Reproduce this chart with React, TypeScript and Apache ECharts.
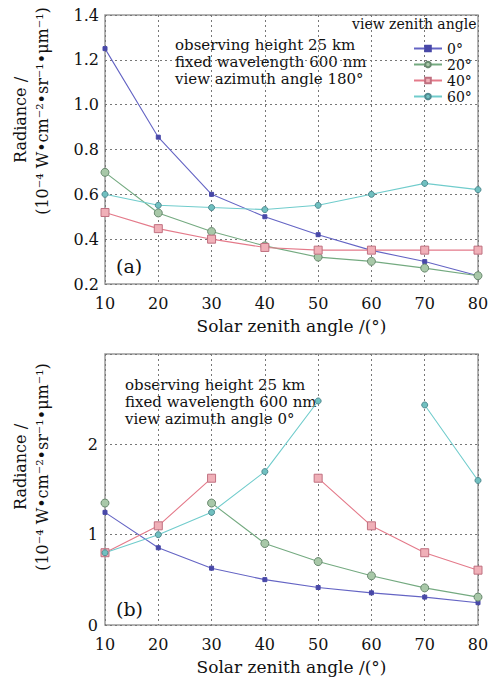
import React, { useEffect, useRef } from "react";
import * as echarts from "echarts";

const solarAngles = [10, 20, 30, 40, 50, 60, 70, 80];
const seriesNames = ["0°", "20°", "40°", "60°"];

// Panel (a): view azimuth angle 180°
const a0 = [1.25, 0.855, 0.6, 0.5, 0.42, 0.35, 0.3, 0.237];
const a20 = [0.698, 0.517, 0.434, 0.37, 0.32, 0.301, 0.271, 0.237];
const a40 = [0.519, 0.447, 0.4, 0.363, 0.351, 0.351, 0.351, 0.351];
const a60 = [0.6, 0.551, 0.541, 0.532, 0.551, 0.6, 0.649, 0.621];

// Panel (b): view azimuth angle 0° (null = gap)
const b0 = [1.247, 0.855, 0.629, 0.502, 0.415, 0.356, 0.309, 0.247];
const b20 = [1.35, null, 1.35, 0.902, 0.702, 0.545, 0.411, 0.309];
const b40 = [0.8, 1.098, 1.625, null, 1.625, 1.098, 0.8, 0.607];
const b60 = [0.8, 1.0, 1.247, 1.698, 2.48, null, 2.436, 1.6];

const yTicksA = { min: 0.2, max: 1.4, interval: 0.2 };
const yTicksB = { min: 0, max: 3, interval: 1 };

const FONT = "DejaVu Serif";

const styles = [
  { color: "#6464c4", symbol: "rect", size: 4, fill: "#4848a8", border: "#4848a8" },
  { color: "#74aa80", symbol: "circle", size: 8, fill: "#a8c8a8", border: "#6a8a70" },
  { color: "#e47a8a", symbol: "rect", size: 8, fill: "#f0b0b8", border: "#c07080" },
  { color: "#70cccc", symbol: "circle", size: 6, fill: "#70c0c0", border: "#508a90" },
];

function mk(name: string, vals: (number | null)[], i: number, axisIdx: number) {
  const s = styles[i];
  return {
    name,
    type: "line",
    xAxisIndex: axisIdx,
    yAxisIndex: axisIdx,
    data: solarAngles.map((x, k) => [x, vals[k]]),
    connectNulls: false,
    symbol: s.symbol,
    symbolSize: s.size,
    showAllSymbol: true,
    lineStyle: { color: s.color, width: 1.1 },
    itemStyle: { color: s.fill, borderColor: s.border, borderWidth: 1 },
    emphasis: { disabled: true },
    z: 3,
  };
}

export default function App() {
  const ref = useRef<HTMLDivElement>(null);
  useEffect(() => {
    document.body.style.margin = "0";
    const chart = echarts.init(ref.current!, null, { renderer: "svg" });
    const xAxisBase = {
      type: "value",
      min: 10,
      max: 80,
      interval: 10,
      axisLine: { show: false },
      axisTick: { show: false },
      axisLabel: { color: "#111", fontFamily: FONT, fontSize: 16, margin: 11 },
      splitLine: { show: true, lineStyle: { color: "#777", type: [2, 3], width: 1 } },
      name: "Solar zenith angle /(°)",
      nameLocation: "middle",
      nameGap: 33,
      nameTextStyle: { color: "#111", fontFamily: FONT, fontSize: 17 },
    };
    const yAxisBase = {
      type: "value",
      axisLine: { show: false },
      axisTick: { show: false },
      splitLine: { show: true, lineStyle: { color: "#777", type: [2, 3], width: 1 } },
    };
    const gridBase = {
      left: 105,
      right: 22,
      show: true,
      borderColor: "#9a9a9a",
      borderWidth: 1.5,
      backgroundColor: "transparent",
    };
    const annStyle = { fill: "#111", fontFamily: FONT, fontSize: 15, lineHeight: 17 };
    const yNameStyle = { fill: "#111", fontFamily: FONT, fontSize: 16, align: "center", verticalAlign: "middle" };
    chart.setOption({
      animation: false,
      backgroundColor: "#ffffff",
      grid: [
        { ...gridBase, top: 15, height: 269 },
        { ...gridBase, top: 354, height: 271 },
      ],
      xAxis: [
        { ...xAxisBase, gridIndex: 0 },
        { ...xAxisBase, gridIndex: 1 },
      ],
      yAxis: [
        {
          ...yAxisBase,
          gridIndex: 0,
          ...yTicksA,
          axisLabel: {
            color: "#111",
            fontFamily: FONT,
            fontSize: 16,
            margin: 6,
            formatter: (v: number) => v.toFixed(1),
          },
        },
        {
          ...yAxisBase,
          gridIndex: 1,
          ...yTicksB,
          axisLabel: {
            color: "#111",
            fontFamily: FONT,
            fontSize: 16,
            margin: 7,
            showMaxLabel: false,
          },
        },
      ],
      legend: {
        data: seriesNames,
        orient: "vertical",
        left: 408,
        top: 36,
        itemWidth: 28,
        itemHeight: 7,
        itemGap: 1,
        textStyle: { color: "#111", fontFamily: FONT, fontSize: 14, lineHeight: 15 },
        selectedMode: false,
      },
      graphic: [
        { type: "text", left: 352, top: 17, style: { text: "view zenith angle", fill: "#111", fontFamily: FONT, fontSize: 14 } },
        {
          type: "text",
          x: 175,
          y: 36,
          style: { ...annStyle, text: "observing height 25 km\nfixed wavelength 600 nm\nview azimuth angle 180°" },
        },
        {
          type: "text",
          x: 125,
          y: 376,
          style: { ...annStyle, text: "observing height 25 km\nfixed wavelength 600 nm\nview azimuth angle 0°" },
        },
        { type: "text", x: 116, y: 256, style: { text: "(a)", fill: "#111", fontFamily: FONT, fontSize: 19 } },
        { type: "text", x: 116, y: 599, style: { text: "(b)", fill: "#111", fontFamily: FONT, fontSize: 19 } },
        { type: "text", x: 20, y: 120, rotation: Math.PI / 2, style: { ...yNameStyle, text: "Radiance /" } },
        {
          type: "text",
          x: 42,
          y: 111,
          rotation: Math.PI / 2,
          style: { ...yNameStyle, text: "(10⁻⁴ W•cm⁻²•sr⁻¹•μm⁻¹)" },
        },
        { type: "text", x: 20, y: 467, rotation: Math.PI / 2, style: { ...yNameStyle, text: "Radiance /" } },
        {
          type: "text",
          x: 42,
          y: 467,
          rotation: Math.PI / 2,
          style: { ...yNameStyle, text: "(10⁻⁴ W•cm⁻²•sr⁻¹•μm⁻¹)" },
        },
      ],
      series: [
        mk(seriesNames[0], a0, 0, 0),
        mk(seriesNames[1], a20, 1, 0),
        mk(seriesNames[2], a40, 2, 0),
        mk(seriesNames[3], a60, 3, 0),
        mk(seriesNames[0], b0, 0, 1),
        mk(seriesNames[1], b20, 1, 1),
        mk(seriesNames[2], b40, 2, 1),
        mk(seriesNames[3], b60, 3, 1),
      ],
    });
    return () => chart.dispose();
  }, []);
  return <div ref={ref} style={{ width: 500, height: 678 }} />;
}
